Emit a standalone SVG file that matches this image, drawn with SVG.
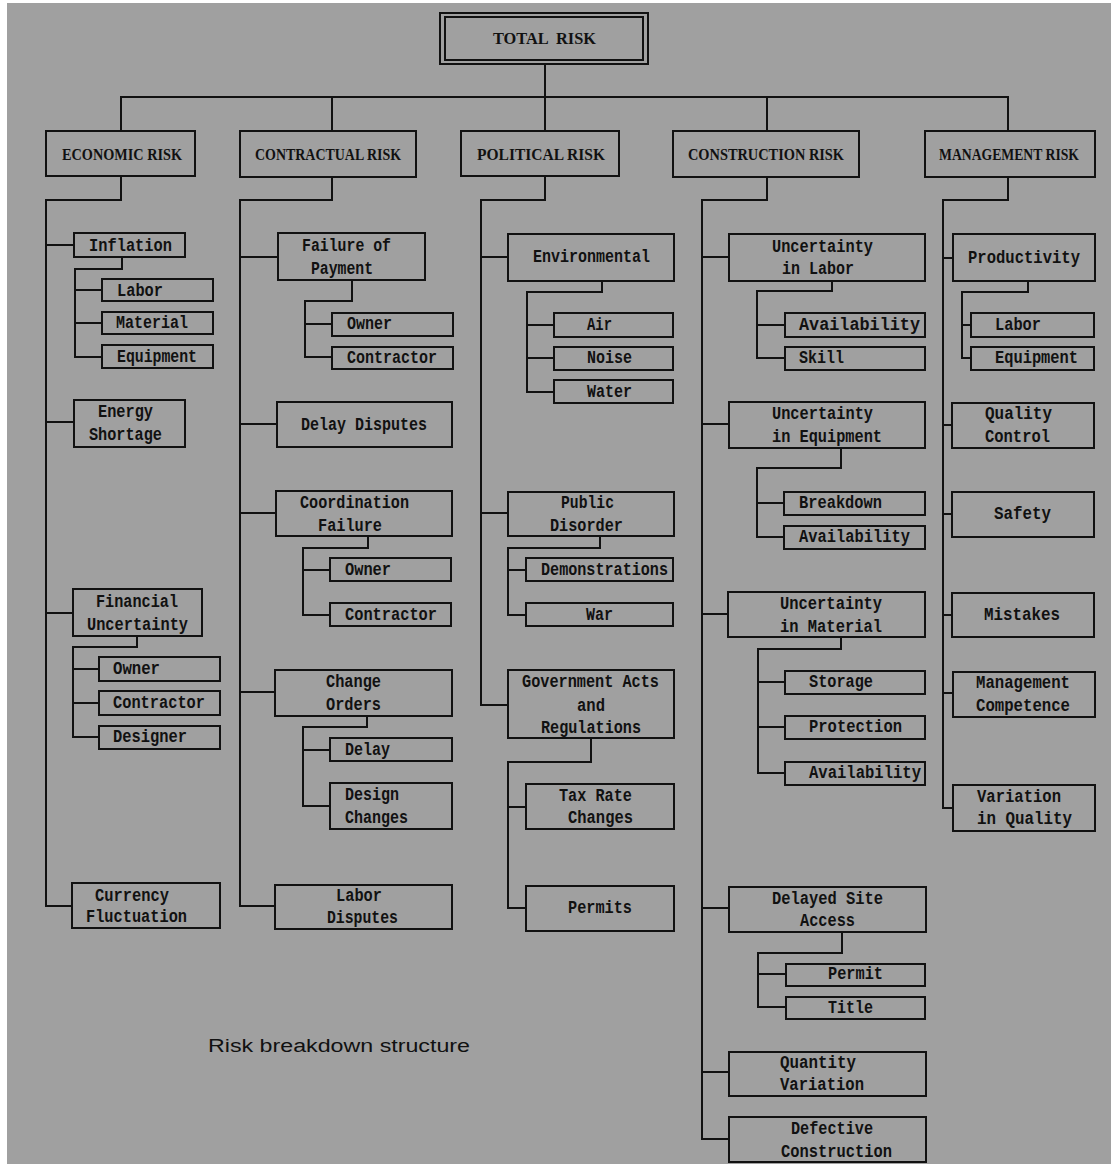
<svg xmlns="http://www.w3.org/2000/svg" width="1111" height="1164" viewBox="0 0 1111 1164">
<style>
  .bx { fill: none; stroke: #111; stroke-width: 2; }
  .cn path { fill: none; stroke: #111; stroke-width: 2; }
  .t { font-family: "Liberation Mono", "DejaVu Sans Mono", monospace; font-weight: bold; font-size: 18px; fill: #111; }
  .h { font-family: "Liberation Serif", "DejaVu Serif", serif; font-weight: bold; font-size: 16px; fill: #111; }
  .cap { font-family: "Liberation Sans", Arial, sans-serif; font-size: 18px; fill: #111; }
</style>
<rect x="0" y="0" width="1111" height="1164" fill="#ffffff"/>
<rect x="7" y="3" width="1104" height="1161" fill="#a0a0a0"/>

<!-- connectors -->
<g class="cn" id="connectors">
  <path d="M545 64 V97"/>
  <path d="M121 130 V97 H1008 V130"/>
  <path d="M332 97 V130"/>
  <path d="M545 97 V130"/>
  <path d="M767 97 V130"/>
  <!-- economic -->
  <path d="M121 176 V200 H46 V906 H72"/>
  <path d="M46 245 H74"/>
  <path d="M46 422 H74"/>
  <path d="M46 613 H73"/>
  <path d="M122 257 V269 H75 V357 H102"/>
  <path d="M75 290 H102"/>
  <path d="M75 323 H102"/>
  <path d="M137 636 V647 H73 V737 H99"/>
  <path d="M73 669 H99"/>
  <path d="M73 703 H99"/>
  <!-- contractual -->
  <path d="M332 177 V200 H240 V906 H275"/>
  <path d="M240 257 H278"/>
  <path d="M240 424 H277"/>
  <path d="M240 513 H276"/>
  <path d="M240 692 H275"/>
  <path d="M352 280 V301 H305 V357 H332"/>
  <path d="M305 324 H332"/>
  <path d="M368 536 V548 H303 V615 H330"/>
  <path d="M303 570 H330"/>
  <path d="M367 716 V727 H303 V806 H330"/>
  <path d="M303 750 H330"/>
  <!-- political -->
  <path d="M545 176 V200 H481 V705 H508"/>
  <path d="M481 257 H508"/>
  <path d="M481 513 H508"/>
  <path d="M602 281 V292 H527 V392 H554"/>
  <path d="M527 325 H554"/>
  <path d="M527 358 H554"/>
  <path d="M600 536 V548 H508 V615 H526"/>
  <path d="M508 570 H526"/>
  <path d="M591 738 V762 H508 V908 H526"/>
  <path d="M508 807 H526"/>
  <!-- construction -->
  <path d="M767 177 V200 H702 V1139 H729"/>
  <path d="M702 257 H729"/>
  <path d="M702 424 H729"/>
  <path d="M702 614 H728"/>
  <path d="M702 908 H729"/>
  <path d="M702 1072 H729"/>
  <path d="M832 281 V291 H757 V358 H785"/>
  <path d="M757 325 H785"/>
  <path d="M841 448 V468 H757 V537 H784"/>
  <path d="M757 503 H784"/>
  <path d="M841 637 V649 H758 V773 H785"/>
  <path d="M758 682 H785"/>
  <path d="M758 727 H785"/>
  <path d="M842 932 V953 H758 V1007 H786"/>
  <path d="M758 974 H786"/>
  <!-- management -->
  <path d="M1008 177 V200 H943 V808 H953"/>
  <path d="M943 258 H953"/>
  <path d="M943 425 H952"/>
  <path d="M943 514 H952"/>
  <path d="M943 615 H952"/>
  <path d="M943 693 H953"/>
  <path d="M1028 281 V292 H962 V358 H971"/>
  <path d="M962 325 H971"/>
</g>

<!-- root -->
<g id="total-risk">
  <rect class="bx" x="440" y="13" width="208" height="51"/>
  <rect class="bx" x="445" y="17" width="198" height="43"/>
  <text class="h" x="493" y="44" textLength="103" lengthAdjust="spacingAndGlyphs" xml:space="preserve">TOTAL  RISK</text>
</g>

<!-- category headers -->
<g id="economic-risk"><rect class="bx" x="46" y="131" width="149" height="45"/><text class="h" x="62" y="160" textLength="120" lengthAdjust="spacingAndGlyphs">ECONOMIC RISK</text></g>
<g id="contractual-risk"><rect class="bx" x="240" y="131" width="176" height="46"/><text class="h" x="255" y="160" textLength="146" lengthAdjust="spacingAndGlyphs">CONTRACTUAL RISK</text></g>
<g id="political-risk"><rect class="bx" x="461" y="131" width="158" height="45"/><text class="h" x="477" y="160" textLength="128" lengthAdjust="spacingAndGlyphs">POLITICAL RISK</text></g>
<g id="construction-risk"><rect class="bx" x="673" y="131" width="186" height="46"/><text class="h" x="688" y="160" textLength="156" lengthAdjust="spacingAndGlyphs">CONSTRUCTION RISK</text></g>
<g id="management-risk"><rect class="bx" x="925" y="131" width="170" height="46"/><text class="h" x="939" y="160" textLength="140" lengthAdjust="spacingAndGlyphs">MANAGEMENT RISK</text></g>

<!-- economic column -->
<g id="inflation"><rect class="bx" x="74" y="233" width="111" height="24"/><text class="t" x="89" y="251" textLength="83" lengthAdjust="spacingAndGlyphs">Inflation</text></g>
<g id="inflation-labor"><rect class="bx" x="102" y="279" width="111" height="22"/><text class="t" x="117" y="296" textLength="46" lengthAdjust="spacingAndGlyphs">Labor</text></g>
<g id="inflation-material"><rect class="bx" x="102" y="312" width="111" height="22"/><text class="t" x="116" y="328" textLength="72" lengthAdjust="spacingAndGlyphs">Material</text></g>
<g id="inflation-equipment"><rect class="bx" x="102" y="345" width="111" height="23"/><text class="t" x="117" y="362" textLength="80" lengthAdjust="spacingAndGlyphs">Equipment</text></g>
<g id="energy-shortage"><rect class="bx" x="74" y="400" width="111" height="47"/><text class="t" x="98" y="417" textLength="55" lengthAdjust="spacingAndGlyphs">Energy</text><text class="t" x="89" y="440" textLength="73" lengthAdjust="spacingAndGlyphs">Shortage</text></g>
<g id="financial-uncertainty"><rect class="bx" x="73" y="589" width="129" height="47"/><text class="t" x="96" y="607" textLength="82" lengthAdjust="spacingAndGlyphs">Financial</text><text class="t" x="87" y="630" textLength="101" lengthAdjust="spacingAndGlyphs">Uncertainty</text></g>
<g id="financial-owner"><rect class="bx" x="99" y="657" width="121" height="24"/><text class="t" x="113" y="674" textLength="47" lengthAdjust="spacingAndGlyphs">Owner</text></g>
<g id="financial-contractor"><rect class="bx" x="99" y="691" width="121" height="24"/><text class="t" x="113" y="708" textLength="92" lengthAdjust="spacingAndGlyphs">Contractor</text></g>
<g id="financial-designer"><rect class="bx" x="99" y="726" width="121" height="23"/><text class="t" x="113" y="742" textLength="74" lengthAdjust="spacingAndGlyphs">Designer</text></g>
<g id="currency-fluctuation"><rect class="bx" x="72" y="883" width="148" height="45"/><text class="t" x="95" y="901" textLength="74" lengthAdjust="spacingAndGlyphs">Currency</text><text class="t" x="86" y="922" textLength="101" lengthAdjust="spacingAndGlyphs">Fluctuation</text></g>

<!-- contractual column -->
<g id="failure-of-payment"><rect class="bx" x="278" y="233" width="147" height="47"/><text class="t" x="302" y="251" textLength="89" lengthAdjust="spacingAndGlyphs">Failure of</text><text class="t" x="311" y="274" textLength="62" lengthAdjust="spacingAndGlyphs">Payment</text></g>
<g id="payment-owner"><rect class="bx" x="332" y="313" width="121" height="23"/><text class="t" x="347" y="329" textLength="45" lengthAdjust="spacingAndGlyphs">Owner</text></g>
<g id="payment-contractor"><rect class="bx" x="332" y="347" width="121" height="22"/><text class="t" x="347" y="363" textLength="90" lengthAdjust="spacingAndGlyphs">Contractor</text></g>
<g id="delay-disputes"><rect class="bx" x="277" y="402" width="175" height="45"/><text class="t" x="301" y="430" textLength="126" lengthAdjust="spacingAndGlyphs">Delay Disputes</text></g>
<g id="coordination-failure"><rect class="bx" x="276" y="491" width="176" height="45"/><text class="t" x="300" y="508" textLength="109" lengthAdjust="spacingAndGlyphs">Coordination</text><text class="t" x="318" y="531" textLength="64" lengthAdjust="spacingAndGlyphs">Failure</text></g>
<g id="coordination-owner"><rect class="bx" x="330" y="558" width="121" height="23"/><text class="t" x="345" y="575" textLength="46" lengthAdjust="spacingAndGlyphs">Owner</text></g>
<g id="coordination-contractor"><rect class="bx" x="330" y="603" width="121" height="23"/><text class="t" x="345" y="620" textLength="92" lengthAdjust="spacingAndGlyphs">Contractor</text></g>
<g id="change-orders"><rect class="bx" x="275" y="670" width="177" height="46"/><text class="t" x="326" y="687" textLength="55" lengthAdjust="spacingAndGlyphs">Change</text><text class="t" x="326" y="710" textLength="55" lengthAdjust="spacingAndGlyphs">Orders</text></g>
<g id="change-delay"><rect class="bx" x="330" y="738" width="122" height="23"/><text class="t" x="345" y="755" textLength="45" lengthAdjust="spacingAndGlyphs">Delay</text></g>
<g id="design-changes"><rect class="bx" x="330" y="783" width="122" height="46"/><text class="t" x="345" y="800" textLength="54" lengthAdjust="spacingAndGlyphs">Design</text><text class="t" x="345" y="823" textLength="63" lengthAdjust="spacingAndGlyphs">Changes</text></g>
<g id="labor-disputes"><rect class="bx" x="275" y="885" width="177" height="44"/><text class="t" x="336" y="901" textLength="46" lengthAdjust="spacingAndGlyphs">Labor</text><text class="t" x="327" y="923" textLength="71" lengthAdjust="spacingAndGlyphs">Disputes</text></g>

<!-- political column -->
<g id="environmental"><rect class="bx" x="508" y="234" width="166" height="47"/><text class="t" x="533" y="262" textLength="117" lengthAdjust="spacingAndGlyphs">Environmental</text></g>
<g id="env-air"><rect class="bx" x="554" y="313" width="119" height="24"/><text class="t" x="587" y="330" textLength="25" lengthAdjust="spacingAndGlyphs">Air</text></g>
<g id="env-noise"><rect class="bx" x="554" y="347" width="119" height="23"/><text class="t" x="587" y="363" textLength="45" lengthAdjust="spacingAndGlyphs">Noise</text></g>
<g id="env-water"><rect class="bx" x="554" y="380" width="119" height="23"/><text class="t" x="587" y="397" textLength="45" lengthAdjust="spacingAndGlyphs">Water</text></g>
<g id="public-disorder"><rect class="bx" x="508" y="492" width="166" height="44"/><text class="t" x="561" y="508" textLength="53" lengthAdjust="spacingAndGlyphs">Public</text><text class="t" x="550" y="531" textLength="73" lengthAdjust="spacingAndGlyphs">Disorder</text></g>
<g id="demonstrations"><rect class="bx" x="526" y="558" width="147" height="23"/><text class="t" x="541" y="575" textLength="127" lengthAdjust="spacingAndGlyphs">Demonstrations</text></g>
<g id="war"><rect class="bx" x="526" y="603" width="147" height="23"/><text class="t" x="586" y="620" textLength="27" lengthAdjust="spacingAndGlyphs">War</text></g>
<g id="government-acts"><rect class="bx" x="508" y="670" width="166" height="68"/><text class="t" x="522" y="687" textLength="137" lengthAdjust="spacingAndGlyphs">Government Acts</text><text class="t" x="577" y="711" textLength="28" lengthAdjust="spacingAndGlyphs">and</text><text class="t" x="541" y="733" textLength="100" lengthAdjust="spacingAndGlyphs">Regulations</text></g>
<g id="tax-rate-changes"><rect class="bx" x="526" y="784" width="148" height="45"/><text class="t" x="559" y="801" textLength="73" lengthAdjust="spacingAndGlyphs">Tax Rate</text><text class="t" x="568" y="823" textLength="65" lengthAdjust="spacingAndGlyphs">Changes</text></g>
<g id="permits"><rect class="bx" x="526" y="886" width="148" height="45"/><text class="t" x="568" y="913" textLength="64" lengthAdjust="spacingAndGlyphs">Permits</text></g>

<!-- construction column -->
<g id="uncertainty-labor"><rect class="bx" x="729" y="234" width="196" height="47"/><text class="t" x="772" y="252" textLength="101" lengthAdjust="spacingAndGlyphs">Uncertainty</text><text class="t" x="782" y="274" textLength="72" lengthAdjust="spacingAndGlyphs">in Labor</text></g>
<g id="labor-availability"><rect class="bx" x="785" y="313" width="140" height="24"/><text class="t" x="799" y="330" textLength="121" lengthAdjust="spacingAndGlyphs">Availability</text></g>
<g id="labor-skill"><rect class="bx" x="785" y="347" width="140" height="23"/><text class="t" x="799" y="363" textLength="45" lengthAdjust="spacingAndGlyphs">Skill</text></g>
<g id="uncertainty-equipment"><rect class="bx" x="729" y="402" width="196" height="46"/><text class="t" x="772" y="419" textLength="101" lengthAdjust="spacingAndGlyphs">Uncertainty</text><text class="t" x="772" y="442" textLength="110" lengthAdjust="spacingAndGlyphs">in Equipment</text></g>
<g id="equipment-breakdown"><rect class="bx" x="784" y="492" width="141" height="23"/><text class="t" x="799" y="508" textLength="83" lengthAdjust="spacingAndGlyphs">Breakdown</text></g>
<g id="equipment-availability"><rect class="bx" x="784" y="526" width="141" height="23"/><text class="t" x="799" y="542" textLength="111" lengthAdjust="spacingAndGlyphs">Availability</text></g>
<g id="uncertainty-material"><rect class="bx" x="728" y="592" width="197" height="45"/><text class="t" x="780" y="609" textLength="102" lengthAdjust="spacingAndGlyphs">Uncertainty</text><text class="t" x="780" y="632" textLength="102" lengthAdjust="spacingAndGlyphs">in Material</text></g>
<g id="material-storage"><rect class="bx" x="785" y="671" width="140" height="23"/><text class="t" x="809" y="687" textLength="64" lengthAdjust="spacingAndGlyphs">Storage</text></g>
<g id="material-protection"><rect class="bx" x="785" y="716" width="140" height="23"/><text class="t" x="809" y="732" textLength="93" lengthAdjust="spacingAndGlyphs">Protection</text></g>
<g id="material-availability"><rect class="bx" x="785" y="762" width="140" height="23"/><text class="t" x="809" y="778" textLength="112" lengthAdjust="spacingAndGlyphs">Availability</text></g>
<g id="delayed-site-access"><rect class="bx" x="729" y="887" width="197" height="45"/><text class="t" x="772" y="904" textLength="111" lengthAdjust="spacingAndGlyphs">Delayed Site</text><text class="t" x="800" y="926" textLength="55" lengthAdjust="spacingAndGlyphs">Access</text></g>
<g id="site-permit"><rect class="bx" x="786" y="964" width="139" height="22"/><text class="t" x="828" y="979" textLength="55" lengthAdjust="spacingAndGlyphs">Permit</text></g>
<g id="site-title"><rect class="bx" x="786" y="997" width="139" height="22"/><text class="t" x="828" y="1013" textLength="45" lengthAdjust="spacingAndGlyphs">Title</text></g>
<g id="quantity-variation"><rect class="bx" x="729" y="1052" width="197" height="44"/><text class="t" x="780" y="1068" textLength="76" lengthAdjust="spacingAndGlyphs">Quantity</text><text class="t" x="780" y="1090" textLength="84" lengthAdjust="spacingAndGlyphs">Variation</text></g>
<g id="defective-construction"><rect class="bx" x="729" y="1117" width="197" height="45"/><text class="t" x="791" y="1134" textLength="82" lengthAdjust="spacingAndGlyphs">Defective</text><text class="t" x="781" y="1157" textLength="111" lengthAdjust="spacingAndGlyphs">Construction</text></g>

<!-- management column -->
<g id="productivity"><rect class="bx" x="953" y="234" width="142" height="47"/><text class="t" x="968" y="263" textLength="112" lengthAdjust="spacingAndGlyphs">Productivity</text></g>
<g id="productivity-labor"><rect class="bx" x="971" y="313" width="123" height="24"/><text class="t" x="995" y="330" textLength="46" lengthAdjust="spacingAndGlyphs">Labor</text></g>
<g id="productivity-equipment"><rect class="bx" x="971" y="347" width="123" height="23"/><text class="t" x="995" y="363" textLength="83" lengthAdjust="spacingAndGlyphs">Equipment</text></g>
<g id="quality-control"><rect class="bx" x="952" y="403" width="142" height="45"/><text class="t" x="985" y="419" textLength="67" lengthAdjust="spacingAndGlyphs">Quality</text><text class="t" x="985" y="442" textLength="65" lengthAdjust="spacingAndGlyphs">Control</text></g>
<g id="safety"><rect class="bx" x="952" y="492" width="142" height="45"/><text class="t" x="994" y="519" textLength="57" lengthAdjust="spacingAndGlyphs">Safety</text></g>
<g id="mistakes"><rect class="bx" x="952" y="593" width="142" height="44"/><text class="t" x="984" y="620" textLength="76" lengthAdjust="spacingAndGlyphs">Mistakes</text></g>
<g id="management-competence"><rect class="bx" x="953" y="672" width="142" height="45"/><text class="t" x="976" y="688" textLength="94" lengthAdjust="spacingAndGlyphs">Management</text><text class="t" x="976" y="711" textLength="94" lengthAdjust="spacingAndGlyphs">Competence</text></g>
<g id="variation-in-quality"><rect class="bx" x="953" y="785" width="142" height="46"/><text class="t" x="977" y="802" textLength="84" lengthAdjust="spacingAndGlyphs">Variation</text><text class="t" x="977" y="824" textLength="95" lengthAdjust="spacingAndGlyphs">in Quality</text></g>

<text class="cap" x="208" y="1052" textLength="262" lengthAdjust="spacingAndGlyphs">Risk breakdown structure</text>
</svg>
